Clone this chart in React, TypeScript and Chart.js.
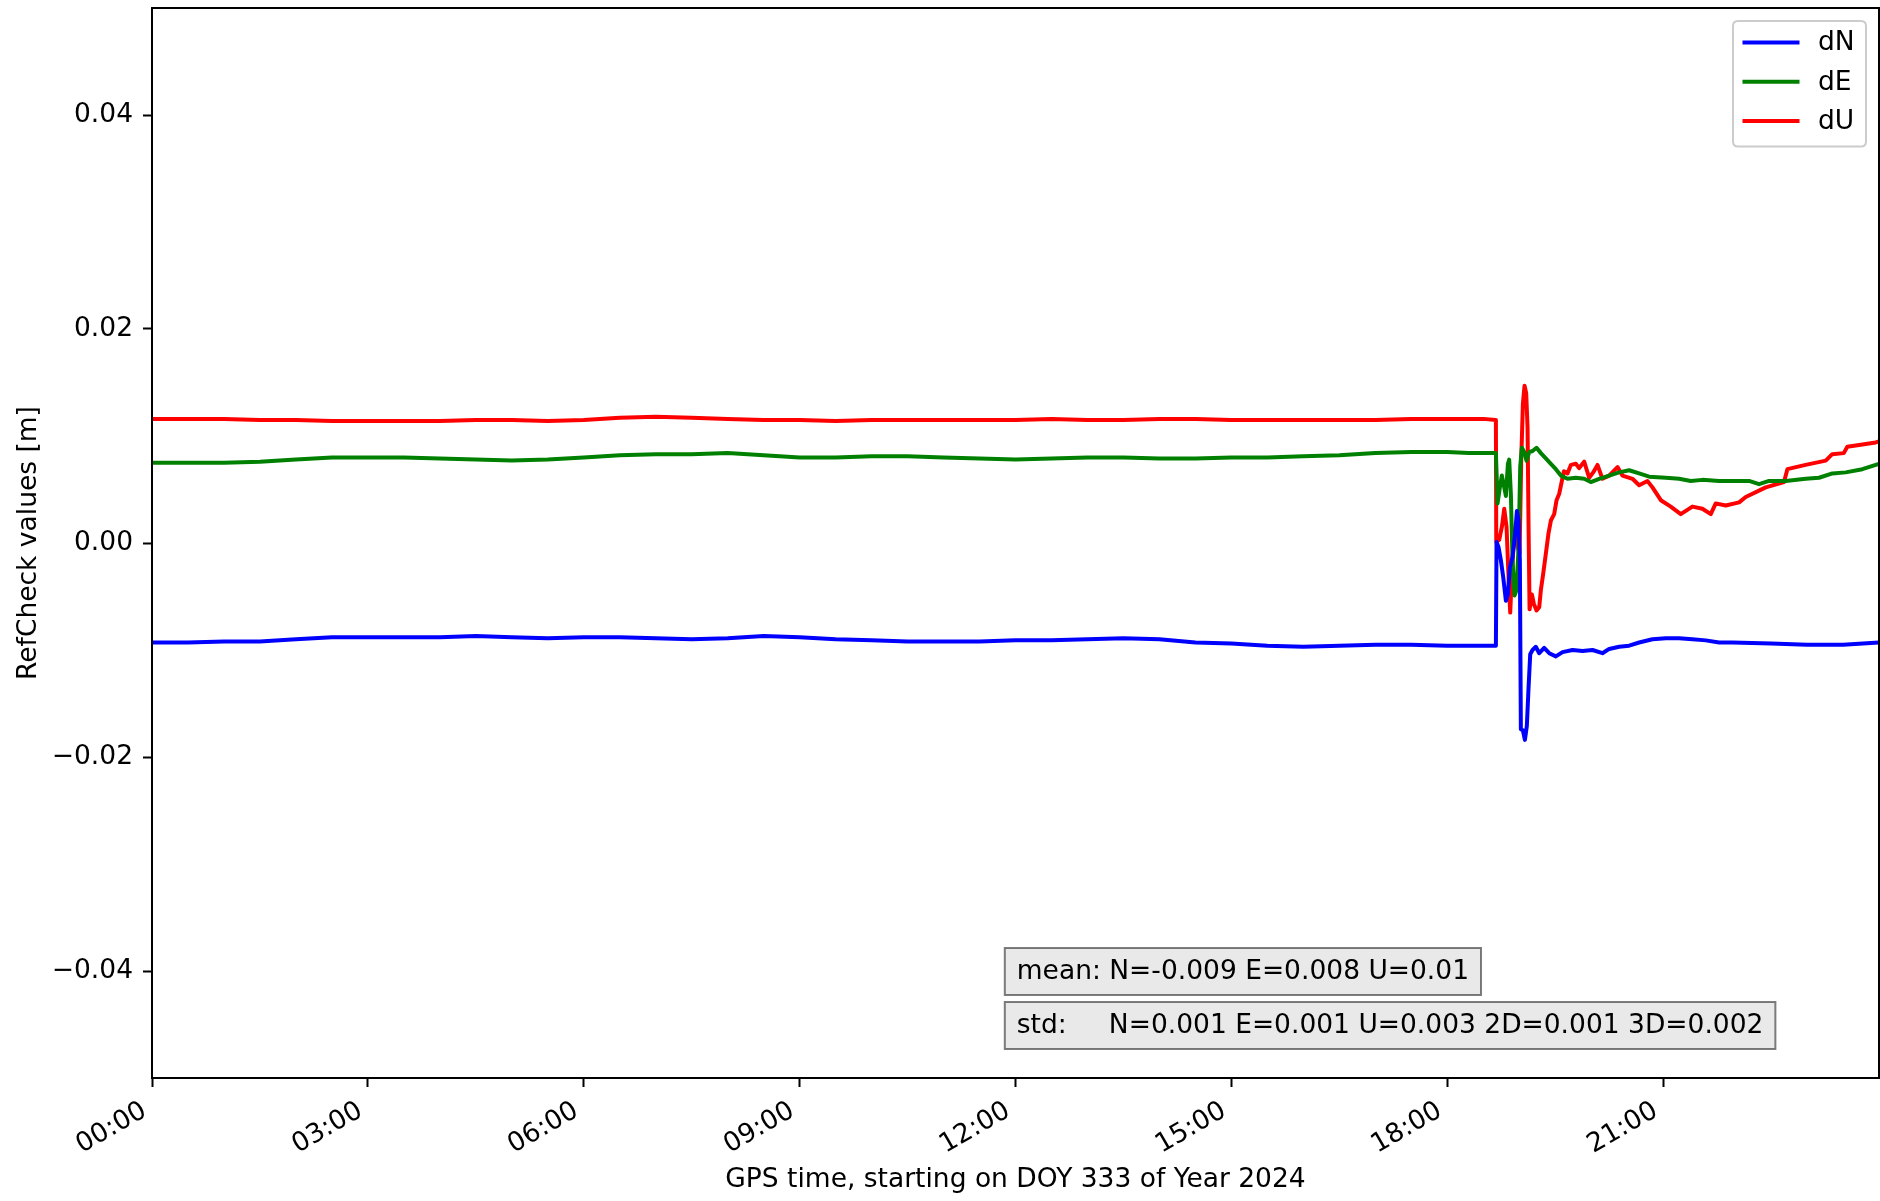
import React, { useEffect, useRef } from "react";
import { Chart, registerables } from "chart.js";

Chart.register(...registerables);

const FONT = "'DejaVu Sans', sans-serif";
const FONT_SIZE = 26.5;

const xTickHours = [0, 3, 6, 9, 12, 15, 18, 21];
const yTickValues = [-0.04, -0.02, 0, 0.02, 0.04];

const seriesLabels = ["dN", "dE", "dU"];
const seriesColors = ["#0000ff", "#008000", "#ff0000"];

const xTitle = "GPS time, starting on DOY 333 of Year 2024";
const yTitle = "RefCheck values [m]";
const meanText = "mean: N=-0.009 E=0.008 U=0.01";
const stdText = "std:     N=0.001 E=0.001 U=0.003 2D=0.001 3D=0.002";

const timeN = [
  0, 0.5, 1, 1.5, 2, 2.5, 3, 3.5, 4, 4.5, 5, 5.5, 6, 6.5, 7, 7.5, 8, 8.5, 9, 9.5,
  10, 10.5, 11, 11.5, 12, 12.5, 13, 13.5, 14, 14.5, 15, 15.5, 16, 16.5, 17, 17.5, 18, 18.5,
  18.676, 18.685, 18.713, 18.745, 18.778, 18.815, 18.843, 18.87, 18.907, 18.944, 18.968,
  18.991, 19.009, 19.023, 19.051, 19.079, 19.106, 19.13, 19.153, 19.185, 19.231, 19.278,
  19.347, 19.417, 19.509, 19.602, 19.741, 19.88, 20.019, 20.157, 20.25, 20.389, 20.528,
  20.667, 20.852, 21.037, 21.222, 21.407, 21.593, 21.778, 21.963, 22.5, 23, 23.5, 24,
];
const valN = [
  -0.0093, -0.0093, -0.0092, -0.0092, -0.009, -0.0088, -0.0088, -0.0088, -0.0088, -0.0087,
  -0.0088, -0.0089, -0.0088, -0.0088, -0.0089, -0.009, -0.0089, -0.0087, -0.0088, -0.009,
  -0.0091, -0.0092, -0.0092, -0.0092, -0.0091, -0.0091, -0.009, -0.0089, -0.009, -0.0093,
  -0.0094, -0.0096, -0.0097, -0.0096, -0.0095, -0.0095, -0.0096, -0.0096,
  -0.0096, 0.0001, -0.0004, -0.0016, -0.0032, -0.0054, -0.0048, -0.0023, -0.0013, 0.0009,
  0.003, 0.0021, -0.0016, -0.0174, -0.0175, -0.0184, -0.0171, -0.0135, -0.0104, -0.01,
  -0.0097, -0.0103, -0.0098, -0.0103, -0.0106, -0.0102, -0.01, -0.0101, -0.01, -0.0103,
  -0.0099, -0.0097, -0.0096, -0.0093, -0.009, -0.0089, -0.0089, -0.009, -0.0091, -0.0093,
  -0.0093, -0.0094, -0.0095, -0.0095, -0.0093,
];

const timeE = [
  0, 0.5, 1, 1.5, 2, 2.5, 3, 3.5, 4, 4.5, 5, 5.5, 6, 6.5, 7, 7.5, 8, 8.5, 9, 9.5,
  10, 10.5, 11, 11.5, 12, 12.5, 13, 13.5, 14, 14.5, 15, 15.5, 16, 16.5, 17, 17.5, 18, 18.3,
  18.653, 18.676, 18.699, 18.731, 18.759, 18.792, 18.815, 18.843, 18.861, 18.884, 18.907,
  18.935, 18.963, 18.991, 19.014, 19.037, 19.069, 19.102, 19.139, 19.185, 19.241, 19.301,
  19.37, 19.44, 19.509, 19.579, 19.671, 19.787, 19.903, 19.995, 20.111, 20.25, 20.389,
  20.528, 20.667, 20.806, 21.037, 21.222, 21.384, 21.546, 21.778, 22.009, 22.194, 22.333,
  22.472, 22.704, 22.981, 23.167, 23.352, 23.537, 23.769, 23.954, 24,
];
const valE = [
  0.0075, 0.0075, 0.0075, 0.0076, 0.0078, 0.008, 0.008, 0.008, 0.0079, 0.0078,
  0.0077, 0.0078, 0.008, 0.0082, 0.0083, 0.0083, 0.0084, 0.0082, 0.008, 0.008,
  0.0081, 0.0081, 0.008, 0.0079, 0.0078, 0.0079, 0.008, 0.008, 0.0079, 0.0079,
  0.008, 0.008, 0.0081, 0.0082, 0.0084, 0.0085, 0.0085, 0.0084,
  0.0084, 0.0084, 0.0037, 0.0052, 0.0063, 0.0052, 0.0044, 0.0074, 0.0078, 0.0046, -0.0016,
  -0.0049, -0.0044, -0.0004, 0.0071, 0.0089, 0.0085, 0.0077, 0.0085, 0.0086, 0.0089, 0.0084,
  0.0079, 0.0074, 0.0069, 0.0063, 0.006, 0.0061, 0.006, 0.0057, 0.006, 0.0063, 0.0066,
  0.0068, 0.0065, 0.0062, 0.0061, 0.006, 0.0058, 0.0059, 0.0058, 0.0058, 0.0058, 0.0055,
  0.0058, 0.0058, 0.006, 0.0061, 0.0065, 0.0066, 0.0069, 0.0073, 0.0074,
];

const timeU = [
  0, 0.5, 1, 1.5, 2, 2.5, 3, 3.5, 4, 4.5, 5, 5.5, 6, 6.5, 7, 7.5, 8, 8.5, 9, 9.5,
  10, 10.5, 11, 11.5, 12, 12.5, 13, 13.5, 14, 14.5, 15, 15.5, 16, 16.5, 17, 17.5, 18, 18.5,
  18.676, 18.681, 18.722, 18.759, 18.792, 18.824, 18.852, 18.875, 18.898, 18.926, 18.954,
  18.981, 19.005, 19.028, 19.051, 19.074, 19.097, 19.116, 19.13, 19.144, 19.176, 19.204,
  19.241, 19.278, 19.301, 19.333, 19.37, 19.407, 19.44, 19.486, 19.519, 19.556, 19.593,
  19.62, 19.671, 19.718, 19.787, 19.833, 19.903, 19.972, 20.028, 20.088, 20.157, 20.25,
  20.366, 20.435, 20.574, 20.667, 20.782, 20.852, 20.968, 21.106, 21.245, 21.407, 21.546,
  21.662, 21.731, 21.87, 22.056, 22.148, 22.426, 22.68, 22.727, 22.98, 23.26, 23.35, 23.51,
  23.56, 23.77, 23.954, 24,
];
const valU = [
  0.0116, 0.0116, 0.0116, 0.0115, 0.0115, 0.0114, 0.0114, 0.0114, 0.0114, 0.0115,
  0.0115, 0.0114, 0.0115, 0.0117, 0.0118, 0.0117, 0.0116, 0.0115, 0.0115, 0.0114,
  0.0115, 0.0115, 0.0115, 0.0115, 0.0115, 0.0116, 0.0115, 0.0115, 0.0116, 0.0116,
  0.0115, 0.0115, 0.0115, 0.0115, 0.0115, 0.0116, 0.0116, 0.0116,
  0.0115, 0.0001, 0.0003, 0.0015, 0.0032, 0.0015, -0.0032, -0.0065, -0.0029, 0.0003, 0.0018,
  -0.0004, -0.001, 0.0077, 0.013, 0.0147, 0.014, 0.0108, 0.0015, -0.0062, -0.0048, -0.0057,
  -0.0063, -0.006, -0.0044, -0.0029, -0.001, 0.0009, 0.0021, 0.0027, 0.004, 0.0046, 0.0058,
  0.0067, 0.0065, 0.0073, 0.0074, 0.007, 0.0076, 0.0061, 0.0066, 0.0073, 0.006, 0.0063,
  0.0071, 0.0063, 0.006, 0.0054, 0.0058, 0.0052, 0.004, 0.0034, 0.0027, 0.0034, 0.0032,
  0.0027, 0.0037, 0.0035, 0.0038, 0.0043, 0.0052, 0.0057, 0.0069, 0.0073, 0.0077, 0.0083, 0.0084,
  0.009, 0.0092, 0.0094, 0.0095,
];

const seriesTimes = [timeN, timeE, timeU];
const seriesValues = [valN, valE, valU];

const fmtY = (v: number) => {
  const s = Math.abs(v).toFixed(2);
  return v < -1e-9 ? "\u2212" + s : s;
};
// trailing space nudges the rotated, right-aligned label so its end sits left of the tick
const fmtX = (v: number) => String(Math.round(v)).padStart(2, "0") + ":00 ";

const overlayPlugin = {
  id: "overlay",
  afterDatasetsDraw(chart: any) {
    const { ctx, chartArea: a } = chart;
    ctx.save();
    ctx.strokeStyle = "#000";
    ctx.lineWidth = 2;
    ctx.strokeRect(a.left, a.top, a.right - a.left, a.bottom - a.top);

    ctx.font = `${FONT_SIZE}px ${FONT}`;
    ctx.textBaseline = "middle";
    ctx.textAlign = "left";
    const bx = a.left + 0.4938 * (a.right - a.left);
    const pad = 12;
    const boxes = [
      { text: meanText, top: a.bottom - 130, h: 47 },
      { text: stdText, top: a.bottom - 76, h: 47 },
    ];
    for (const b of boxes) {
      const w = ctx.measureText(b.text).width + 2 * pad;
      ctx.fillStyle = "#e9e9e9";
      ctx.fillRect(bx, b.top, w, b.h);
      ctx.strokeStyle = "rgba(0,0,0,0.5)";
      ctx.lineWidth = 2;
      ctx.strokeRect(bx, b.top, w, b.h);
      ctx.fillStyle = "#000";
      ctx.fillText(b.text, bx + pad, b.top + b.h / 2 + 1);
    }

    const lw = 133;
    const lh = 125.5;
    const lx = a.right - 13 - lw;
    const ly = a.top + 13;
    const r = 5;
    ctx.beginPath();
    ctx.moveTo(lx + r, ly);
    ctx.lineTo(lx + lw - r, ly);
    ctx.quadraticCurveTo(lx + lw, ly, lx + lw, ly + r);
    ctx.lineTo(lx + lw, ly + lh - r);
    ctx.quadraticCurveTo(lx + lw, ly + lh, lx + lw - r, ly + lh);
    ctx.lineTo(lx + r, ly + lh);
    ctx.quadraticCurveTo(lx, ly + lh, lx, ly + lh - r);
    ctx.lineTo(lx, ly + r);
    ctx.quadraticCurveTo(lx, ly, lx + r, ly);
    ctx.closePath();
    ctx.fillStyle = "rgba(255,255,255,0.8)";
    ctx.fill();
    ctx.strokeStyle = "#cccccc";
    ctx.lineWidth = 2;
    ctx.stroke();
    chart.data.datasets.forEach((ds: any, i: number) => {
      const y = ly + 21.5 + i * 39.2;
      ctx.strokeStyle = ds.borderColor;
      ctx.lineWidth = 4;
      ctx.beginPath();
      ctx.moveTo(lx + 9.5, y);
      ctx.lineTo(lx + 66.5, y);
      ctx.stroke();
      ctx.fillStyle = "#000";
      ctx.fillText(ds.label, lx + 85, y + 1);
    });
    ctx.restore();
  },
};

export default function App() {
  const canvasRef = useRef<HTMLCanvasElement | null>(null);

  useEffect(() => {
    const canvas = canvasRef.current;
    if (!canvas) return;
    const font = { family: FONT, size: FONT_SIZE };
    const chart = new Chart(canvas, {
      type: "line",
      data: {
        datasets: seriesLabels.map((label, i) => ({
          label,
          data: seriesTimes[i].map((t, j) => ({ x: t, y: seriesValues[i][j] })),
          borderColor: seriesColors[i],
          backgroundColor: seriesColors[i],
          borderWidth: 4,
          pointRadius: 0,
          tension: 0,
          fill: false,
          borderJoinStyle: "round",
          borderCapStyle: "butt",
        })),
      },
      options: {
        animation: false,
        responsive: false,
        maintainAspectRatio: false,
        devicePixelRatio: 1,
        layout: { padding: { left: 0, right: 1, top: 8, bottom: 0 } },
        plugins: { legend: { display: false }, tooltip: { enabled: false } },
        scales: {
          x: {
            type: "linear",
            min: 0,
            max: 24,
            afterBuildTicks: (s: any) => {
              s.ticks = xTickHours.map((v) => ({ value: v }));
            },
            afterFit: (s: any) => {
              s.height = 123;
              s.paddingLeft = 0;
              s.paddingRight = 0;
            },
            ticks: {
              autoSkip: false,
              minRotation: 30,
              maxRotation: 30,
              padding: 4,
              color: "#000",
              font,
              callback: (v: any) => fmtX(Number(v)),
            },
            grid: {
              display: true,
              drawOnChartArea: false,
              drawTicks: true,
              tickLength: 9,
              tickWidth: 2,
              tickColor: "#000",
            },
            border: { display: false },
            title: {
              display: true,
              text: xTitle,
              color: "#000",
              font,
              padding: { top: 0, bottom: 5 },
            },
          },
          y: {
            type: "linear",
            min: -0.05,
            max: 0.05,
            afterBuildTicks: (s: any) => {
              s.ticks = yTickValues.map((v) => ({ value: v }));
            },
            afterFit: (s: any) => {
              s.width = 152;
              s.paddingTop = 0;
              s.paddingBottom = 0;
            },
            ticks: {
              padding: 10,
              color: "#000",
              font,
              callback: (v: any) => fmtY(Number(v)),
            },
            grid: {
              display: true,
              drawOnChartArea: false,
              drawTicks: true,
              tickLength: 9,
              tickWidth: 2,
              tickColor: "#000",
            },
            border: { display: false },
            title: {
              display: true,
              text: yTitle,
              color: "#000",
              font,
              padding: { top: 13, bottom: 0 },
            },
          },
        },
      },
      plugins: [overlayPlugin],
    } as any);
    return () => chart.destroy();
  }, []);

  return (
    <div
      style={{
        position: "fixed",
        left: 0,
        top: 0,
        width: 1880,
        height: 1201,
        background: "#fff",
      }}
    >
      <canvas
        ref={canvasRef}
        width={1880}
        height={1201}
        style={{ display: "block", width: 1880, height: 1201 }}
      />
    </div>
  );
}
